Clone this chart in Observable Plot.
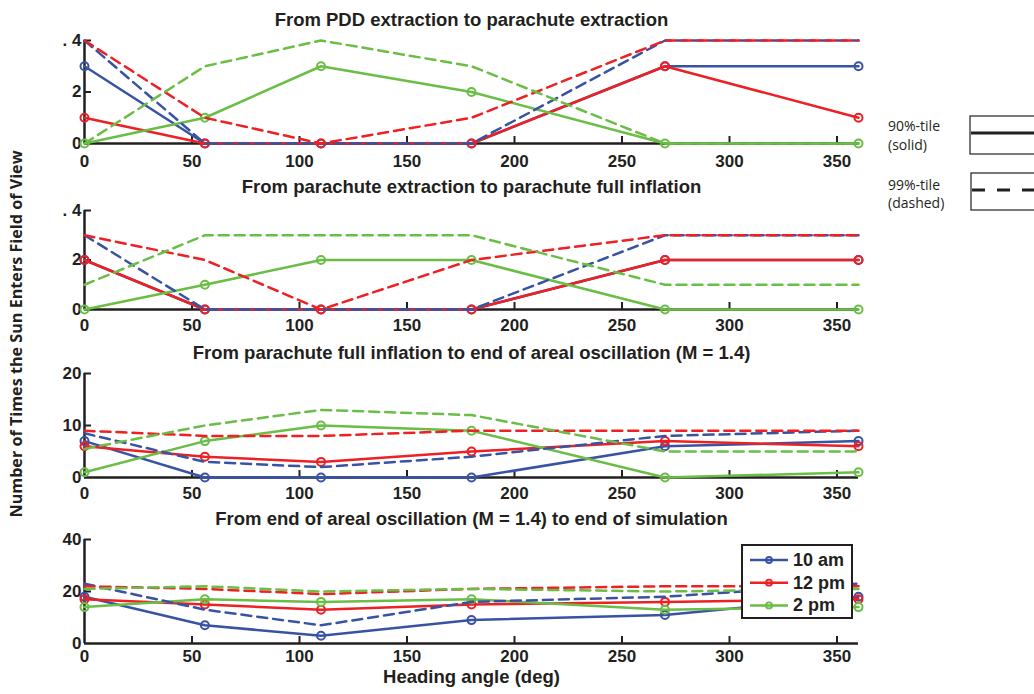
<!DOCTYPE html>
<html><head><meta charset="utf-8">
<script src="https://cdn.jsdelivr.net/npm/d3@7"></script>
<script src="https://cdn.jsdelivr.net/npm/@observablehq/plot@0.6"></script>
<style>
body{margin:0;background:#fff;}
#chart{position:relative;width:1034px;height:694px;overflow:hidden;background:#fff;}
#chart svg{position:absolute;left:0;}
</style></head><body><div id="chart"></div>
<script>
// ---------- data ----------
const headings = [0, 56, 110, 180, 270, 360];
const seriesNames = ["10 am", "12 pm", "2 pm"];
const xTicks = [0, 50, 100, 150, 200, 250, 300, 350];
const panelTitles = [
  "From PDD extraction to parachute extraction",
  "From parachute extraction to parachute full inflation",
  "From parachute full inflation to end of areal oscillation (M = 1.4)",
  "From end of areal oscillation (M = 1.4) to end of simulation"
];
const yTickValues = [[0, 2, 4], [0, 2, 4], [0, 10, 20], [0, 20, 40]];
const yTickLabels = [["0", "2", ". 4"], ["0", "2", ". 4"], ["0", "10", "20"], ["0", "20", "40"]];
const yDomains = [[0, 4], [0, 4], [0, 20], [0, 40]];

// panel 1 : PDD extraction -> parachute extraction
const p1_90_10am = [3, 0, 0, 0, 3, 3];
const p1_90_12pm = [1, 0, 0, 0, 3, 1];
const p1_90_2pm  = [0, 1, 3, 2, 0, 0];
const p1_99_10am = [4, 0, 0, 0, 4, 4];
const p1_99_12pm = [4, 1, 0, 1, 4, 4];
const p1_99_2pm  = [0, 3, 4, 3, 0, 0];
// panel 2 : parachute extraction -> full inflation
const p2_90_10am = [2, 0, 0, 0, 2, 2];
const p2_90_12pm = [2, 0, 0, 0, 2, 2];
const p2_90_2pm  = [0, 1, 2, 2, 0, 0];
const p2_99_10am = [3, 0, 0, 0, 3, 3];
const p2_99_12pm = [3, 2, 0, 2, 3, 3];
const p2_99_2pm  = [1, 3, 3, 3, 1, 1];
// panel 3 : full inflation -> end of areal oscillation
const p3_90_10am = [7, 0, 0, 0, 6, 7];
const p3_90_12pm = [6, 4, 3, 5, 7, 6];
const p3_90_2pm  = [1, 7, 10, 9, 0, 1];
const p3_99_10am = [8.5, 3, 2, 4, 8, 9];
const p3_99_12pm = [9, 8, 8, 9, 9, 9];
const p3_99_2pm  = [5.5, 10, 13, 12, 5, 5];
// panel 4 : end of areal oscillation -> end of simulation
const p4_90_10am = [18, 7, 3, 9, 11, 18];
const p4_90_12pm = [17, 15, 13, 15, 16, 17];
const p4_90_2pm  = [14, 17, 16, 17, 13, 14];
const p4_99_10am = [23, 13, 7, 16, 18, 23];
const p4_99_12pm = [22, 21, 19, 21, 22, 22];
const p4_99_2pm  = [21, 22, 20, 21, 20, 21];

// ---------- styling ----------
const colors = ["#3953a4", "#ed2024", "#6abd45"];
const ink = "#231f20";
const font = "'Liberation Sans', Arial, Helvetica, sans-serif";

const panels = [
  {s90: [p1_90_10am, p1_90_12pm, p1_90_2pm], s99: [p1_99_10am, p1_99_12pm, p1_99_2pm], top: 40, bottom: 143, titleGap: 15, xPad: 11},
  {s90: [p2_90_10am, p2_90_12pm, p2_90_2pm], s99: [p2_99_10am, p2_99_12pm, p2_99_2pm], top: 210, bottom: 309, titleGap: 18, xPad: 9},
  {s90: [p3_90_10am, p3_90_12pm, p3_90_2pm], s99: [p3_99_10am, p3_99_12pm, p3_99_2pm], top: 373, bottom: 477, titleGap: 15, xPad: 9},
  {s90: [p4_90_10am, p4_90_12pm, p4_90_2pm], s99: [p4_99_10am, p4_99_12pm, p4_99_2pm], top: 539, bottom: 643, titleGap: 15, xPad: 6}
];

const W = 1034, ML = 84, MR = 176, MT = 40;
const frameW = W - ML - MR;
const chart = document.getElementById("chart");

function toRows(values, name) {
  return values.map((v, j) => ({x: headings[j], y: v, series: name}));
}

panels.forEach((p, k) => {
  const frameH = p.bottom - p.top;
  const MB = k === 3 ? 55 : 30;
  const ticks = yTickValues[k], labels = yTickLabels[k];
  const marks = [
    Plot.ruleY([0], {stroke: ink, strokeWidth: 2.5}),
    Plot.ruleX([0], {stroke: ink, strokeWidth: 2.5}),
    Plot.ruleX(xTicks.slice(1), {x: d => d, insetTop: frameH - 7, stroke: ink, strokeWidth: 2}),
    Plot.ruleY(ticks.slice(1), {y: d => d, insetRight: frameW - 7, stroke: ink, strokeWidth: 2}),
    Plot.axisX({ticks: xTicks, tickSize: 0, tickPadding: p.xPad, label: null, fontSize: 17, fontWeight: "bold", fill: ink}),
    Plot.axisY({ticks: ticks, tickSize: 0, tickPadding: 3, label: null, tickFormat: d => labels[ticks.indexOf(d)], fontSize: 17, fontWeight: "bold", fill: ink}),
    Plot.text([panelTitles[k]], {frameAnchor: "top", lineAnchor: "bottom", dy: -p.titleGap, fontSize: 18.5, fontWeight: "bold", fill: ink})
  ];
  p.s90.forEach((vals, i) => {
    const r = toRows(vals, seriesNames[i]);
    marks.push(Plot.line(r, {x: "x", y: "y", stroke: "series", strokeWidth: 2.5}));
    marks.push(Plot.dot(r, {x: "x", y: "y", stroke: "series", r: 4, strokeWidth: 2, fill: "none"}));
  });
  p.s99.forEach((vals, i) => {
    const r = toRows(vals, seriesNames[i]);
    marks.push(Plot.line(r, {x: "x", y: "y", stroke: "series", strokeWidth: 2.5, strokeDasharray: "10,6"}));
  });
  if (k === 3) {
    marks.push(Plot.text(["Heading angle (deg)"], {frameAnchor: "bottom", lineAnchor: "bottom", dy: 39, fontSize: 18.5, fontWeight: "bold", fill: ink}));
  }
  const svg = Plot.plot({
    width: W, height: MT + frameH + MB,
    marginLeft: ML, marginRight: MR, marginTop: MT, marginBottom: MB,
    x: {domain: [0, 360]},
    y: {domain: yDomains[k]},
    color: {domain: seriesNames, range: colors},
    style: {background: "transparent", overflow: "visible", fontFamily: font},
    marks
  });
  svg.style.top = (p.top - MT) + "px";
  chart.appendChild(svg);
});

// ---------- overlay: axis title, legends ----------
const ov = d3.select(chart).append("svg")
  .attr("width", W).attr("height", 694).style("top", "0px").style("overflow", "hidden");

ov.append("text")
  .attr("transform", "translate(22,334) rotate(-90)")
  .attr("text-anchor", "middle")
  .attr("font-family", "'Open Sans', sans-serif").attr("font-weight", "bold").attr("font-size", 15.5)
  .attr("fill", ink)
  .attr("textLength", 367).attr("lengthAdjust", "spacingAndGlyphs")
  .text("Number of Times the Sun Enters Field of View");

// line-style key
const keyFont = "'Open Sans', sans-serif";
const key = [
  {l1: "90%-tile", l2: "(solid)", y1: 131, y2: 150, box: [970, 116, 38], lineY: 133, dash: null},
  {l1: "99%-tile", l2: "(dashed)", y1: 190, y2: 208, box: [971, 173, 37], lineY: 190, dash: "13,12"}
];
key.forEach(k => {
  ov.append("text").attr("x", 888).attr("y", k.y1).attr("font-family", keyFont).attr("font-size", 14).attr("fill", ink).text(k.l1);
  ov.append("text").attr("x", 888).attr("y", k.y2).attr("font-family", keyFont).attr("font-size", 14).attr("fill", ink).text(k.l2);
  ov.append("rect").attr("x", k.box[0]).attr("y", k.box[1]).attr("width", 100).attr("height", k.box[2])
    .attr("fill", "white").attr("stroke", ink).attr("stroke-width", 1.2);
  ov.append("line").attr("x1", k.box[0] + 1).attr("x2", W + 5).attr("y1", k.lineY).attr("y2", k.lineY)
    .attr("stroke", ink).attr("stroke-width", 3).attr("stroke-dasharray", k.dash);
});

// series legend
const lg = ov.append("g");
lg.append("rect").attr("x", 742).attr("y", 545).attr("width", 110).attr("height", 73)
  .attr("fill", "white").attr("stroke", ink).attr("stroke-width", 2);
seriesNames.forEach((name, i) => {
  const y = 560 + i * 22.7;
  lg.append("line").attr("x1", 750).attr("x2", 788).attr("y1", y).attr("y2", y).attr("stroke", colors[i]).attr("stroke-width", 2.5);
  lg.append("circle").attr("cx", 769).attr("cy", y).attr("r", 3).attr("fill", "none").attr("stroke", colors[i]).attr("stroke-width", 1.8);
  lg.append("text").attr("x", 793).attr("y", y + 6).attr("font-family", font).attr("font-weight", "bold").attr("font-size", 18).attr("fill", ink).text(name);
});
</script></body></html>
